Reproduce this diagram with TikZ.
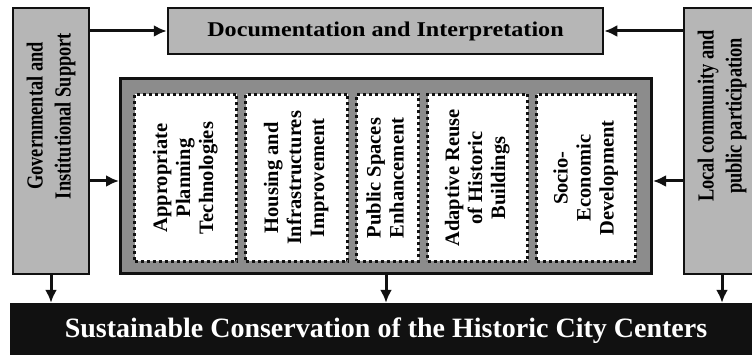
\documentclass[tikz,border=0pt]{standalone}
\usepackage{fontspec}
\setmainfont{Liberation Serif}
\newfontfamily\narrowserif[FakeStretch=0.8]{Liberation Serif}
\newfontfamily\wideserif[FakeStretch=1.15]{Liberation Serif}
\usepackage{tikz}
\usepackage{xcolor}
\usetikzlibrary{arrows.meta, positioning}
\definecolor{sidegray}{HTML}{B6B6B6}
\definecolor{coregray}{HTML}{8C8C8C}
\definecolor{inkblack}{HTML}{111111}
% rotated multi-line label; optional lift along the box
\newcommand{\vlabel}[2][0pt]{\rotatebox{90}{\hspace{#1}\begin{tabular}{@{}c@{}}#2\end{tabular}}}
\tikzset{
  % Outer boxes — light gray, black frame
  sidebox/.style={
    draw=inkblack, fill=sidegray, line width=2.5pt,
    minimum width=76pt, minimum height=266pt, inner sep=0pt,
    font=\narrowserif\fontsize{23}{28}\selectfont\bfseries,
  },
  topbox/.style={
    draw=inkblack, fill=sidegray, line width=2.5pt,
    minimum width=435pt, minimum height=46pt, inner sep=0pt,
    font=\wideserif\fontsize{21}{25}\selectfont\bfseries,
  },
  % Container of the five actions
  corebox/.style={
    draw=inkblack, fill=coregray, line width=3pt,
    minimum width=531pt, minimum height=195pt, inner sep=0pt,
  },
  actbox/.style={
    draw=inkblack, fill=white, line width=3pt,
    dash pattern=on 3pt off 3pt,
    minimum width=#1, minimum height=167pt, inner sep=0pt,
    font=\fontsize{20.5}{23}\selectfont\bfseries,
  },
  % Result bar
  goalbar/.style={
    fill=inkblack, text=white,
    minimum width=752pt, minimum height=56pt, inner sep=0pt,
    font=\fontsize{28}{32}\selectfont\bfseries,
  },
  % Arrows
  arr/.style={-{Latex[length=13pt, width=12pt]}, line width=3pt, inkblack},
}
\begin{document}
\begin{tikzpicture}[x=1pt, y=-1pt, node distance=6pt]
  \useasboundingbox (0,0) rectangle (752,355);
  \clip (0,0) rectangle (752,355);

  \node[sidebox] (gov) at (51,141)
    {\vlabel[50pt]{Governmental and\\Institutional Support}};
  \node[sidebox] (loc) at (722,141)
    {\vlabel[50pt]{Local community and\\public participation}};
  \node[topbox] (doc) at (385.5,31) {Documentation and Interpretation};
  \node[corebox] (core) at (386,176) {};

  \node[actbox=102pt] (plan) at (185.5,178)
    {\vlabel{Appropriate\\Planning\\Technologies}};
  \node[actbox=102pt, right=of plan] (house)
    {\vlabel{Housing and\\Infrastructures\\Improvement}};
  \node[actbox=62pt, right=of house] (public)
    {\vlabel{Public Spaces\\Enhancement}};
  \node[actbox=100pt, right=of public] (reuse)
    {\vlabel{Adaptive Reuse\\of Historic\\Buildings}};
  \node[actbox=99pt, right=of reuse] (socio)
    {\vlabel{Socio-\\Economic\\Development}};

  \node[goalbar] (goal) at (386,331)
    {Sustainable Conservation of the Historic City Centers};

  \coordinate[below=5pt of core.west] (corein);
  \coordinate[below=5pt of core.east] (coreout);

  \draw[arr] (doc.west -| gov.east) -- (doc.west);
  \draw[arr] (doc.east -| loc.west) -- (doc.east);
  \draw[arr] (corein -| gov.east) -- (corein);
  \draw[arr] (coreout -| loc.west) -- (coreout);
  \draw[arr] (gov.south) -- (gov.south |- goal.north);
  \draw[arr] (core.south) -- (core.south |- goal.north);
  \draw[arr] (loc.south) -- (loc.south |- goal.north);
\end{tikzpicture}
\end{document}
